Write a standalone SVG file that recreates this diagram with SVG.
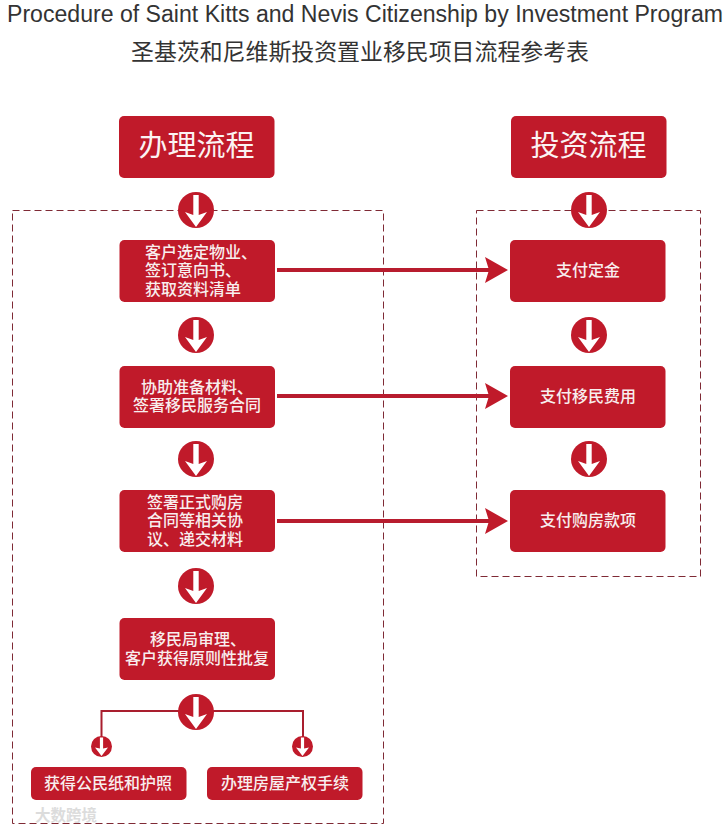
<svg xmlns="http://www.w3.org/2000/svg" width="727" height="829" viewBox="0 0 727 829">
<style>
text{font-family:"Noto Sans CJK SC","Liberation Sans",sans-serif;text-anchor:middle}
.b{fill:#c01a2a}
.t{fill:#f8eeee;font-size:16px;font-weight:500}
.l{text-anchor:start}
.h{fill:#fbf3f3;font-size:29px;font-weight:400}
.d{fill:none;stroke:#7f2a35;stroke-width:1;stroke-dasharray:7 4}
.c{fill:none;stroke:#b81c2e;stroke-width:4}
.c2{fill:none;stroke:#a91e2e;stroke-width:2}
.w{fill:#fff}
</style>
<defs>
<g id="down"><circle class="b" r="18"/><path class="w" d="M-2.700-15H2.700V5L11 2 0 17-11 2-2.700 5Z"/></g>
<g id="downs"><circle class="b" r="10.500"/><path class="w" d="M-1.600-9H1.600V2L6.500 1 0 9.500-6.500 1-1.600 2Z"/></g>
<path id="head" class="b" d="M0-13 23 0 0 13 4 0Z"/>
</defs>
<rect width="727" height="829" fill="#fff"/>
<g id="title">
<text x="365" y="22" textLength="716" lengthAdjust="spacingAndGlyphs" style="font-family:'Liberation Sans',sans-serif;font-size:23px" fill="#333">Procedure of Saint Kitts and Nevis Citizenship by Investment Program</text>
<text x="360" y="60" textLength="458" lengthAdjust="spacingAndGlyphs" style="font-size:22.500px;font-weight:400" fill="#333">圣基茨和尼维斯投资置业移民项目流程参考表</text>
</g>
<g id="frames">
<rect class="d" x="12.500" y="210.500" width="371" height="613"/>
<rect class="d" x="476.500" y="210.500" width="224" height="366"/>
</g>
<g id="connectors">
<path class="c" d="M277 270H490M277 396H490M277 521H490"/>
<use href="#head" x="485" y="270"/><use href="#head" x="485" y="396"/><use href="#head" x="485" y="521"/>
<path class="c2" d="M101.500 742V711H303V742"/>
<use href="#down" x="196" y="210"/><use href="#down" x="196" y="335"/><use href="#down" x="196" y="459"/><use href="#down" x="196" y="586"/><use href="#down" x="196" y="712"/>
<use href="#down" x="589" y="210"/><use href="#down" x="589" y="335"/><use href="#down" x="589" y="459"/>
<use href="#downs" x="101.500" y="746.500"/><use href="#downs" x="302.500" y="746.500"/>
</g>
<g id="head-left"><rect class="b" x="119" y="116" width="155.500" height="62" rx="5"/><text class="h" x="196.500" y="156">办理流程</text></g>
<g id="head-right"><rect class="b" x="511" y="116" width="155.500" height="62" rx="5"/><text class="h" x="588.500" y="156">投资流程</text></g>
<g id="step1"><rect class="b" x="119.500" y="240" width="155.500" height="62" rx="5"/><text class="t l" x="145" y="258">客户选定物业、</text><text class="t l" x="145" y="276">签订意向书、</text><text class="t l" x="145" y="295">获取资料清单</text></g>
<g id="step2"><rect class="b" x="119.500" y="366" width="155.500" height="62" rx="5"/><text class="t" x="197" y="393">协助准备材料、</text><text class="t" x="197" y="411">签署移民服务合同</text></g>
<g id="step3"><rect class="b" x="119.500" y="490" width="155.500" height="62" rx="5"/><text class="t" x="195" y="508">签署正式购房</text><text class="t" x="195" y="526">合同等相关协</text><text class="t" x="195" y="545">议、递交材料</text></g>
<g id="step4"><rect class="b" x="119.500" y="618" width="155.500" height="62" rx="5"/><text class="t" x="198" y="645">移民局审理、</text><text class="t" x="197" y="664">客户获得原则性批复</text></g>
<g id="pay1"><rect class="b" x="510" y="240" width="155.500" height="62" rx="5"/><text class="t" x="588" y="276">支付定金</text></g>
<g id="pay2"><rect class="b" x="510" y="366" width="155.500" height="62" rx="5"/><text class="t" x="588" y="402">支付移民费用</text></g>
<g id="pay3"><rect class="b" x="510" y="490" width="155.500" height="62" rx="5"/><text class="t" x="588" y="526">支付购房款项</text></g>
<g id="end1"><rect class="b" x="31" y="767" width="155.500" height="33" rx="5"/><text class="t" x="108" y="789">获得公民纸和护照</text></g>
<g id="end2"><rect class="b" x="207" y="767" width="155.500" height="33" rx="5"/><text class="t" x="285" y="789">办理房屋产权手续</text></g>
<g id="watermark"><text x="66" y="821" style="font-size:15.500px;font-weight:700" fill="#dcdcdc">大数跨境</text></g>
</svg>
